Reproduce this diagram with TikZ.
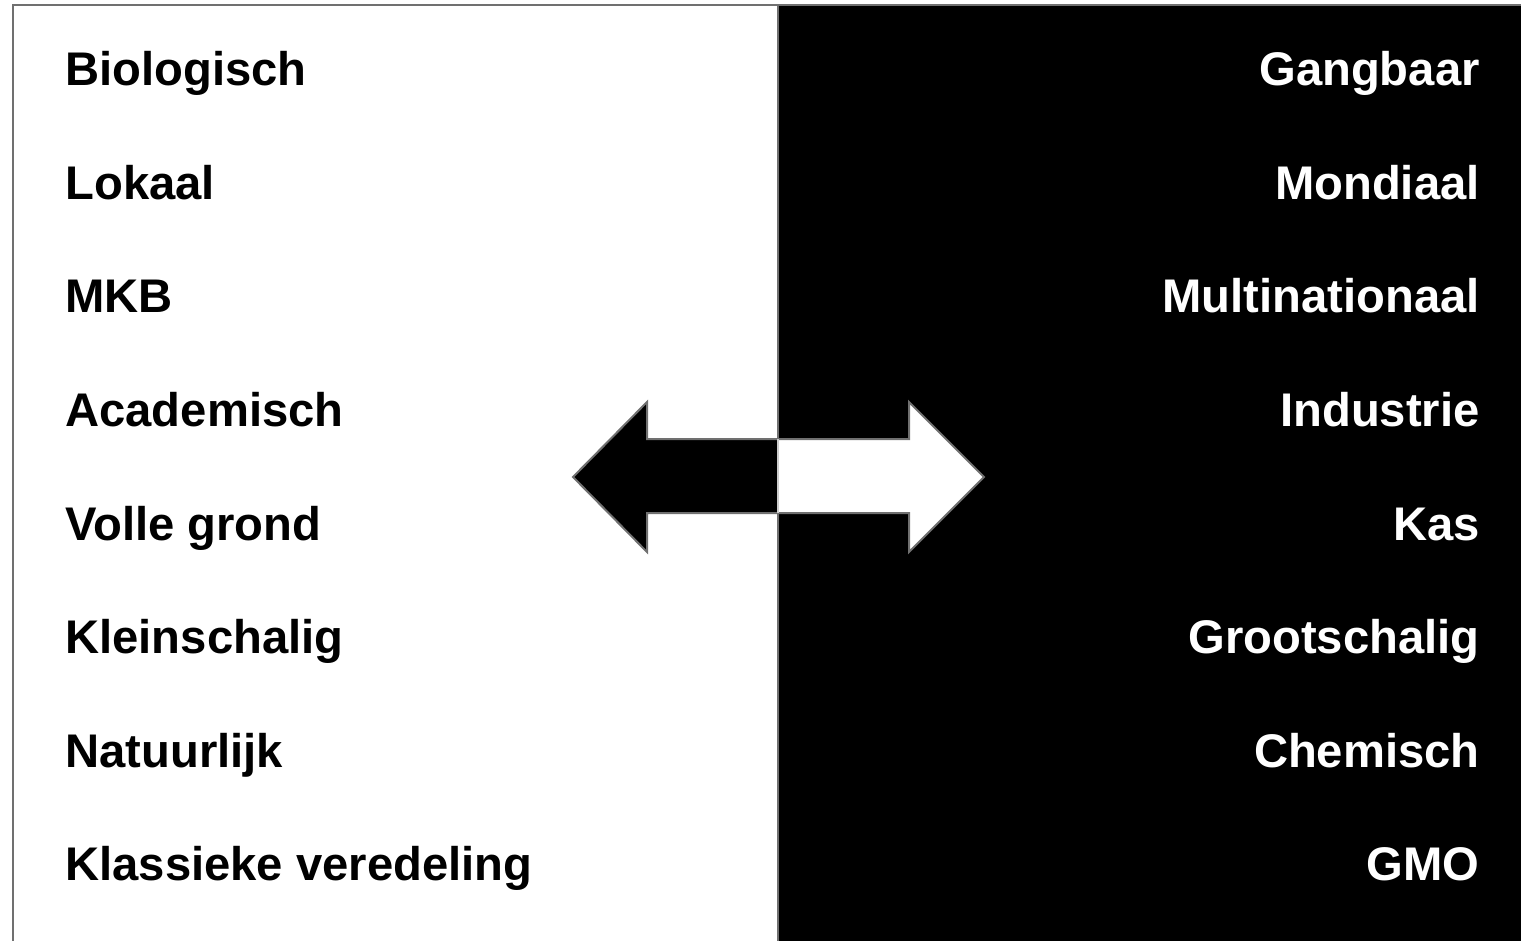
\documentclass[tikz,border=0pt]{standalone}
\usepackage{fontspec}
\setmainfont{Liberation Sans}
\usepackage{tikz}
\definecolor{framegray}{RGB}{112,112,112}
\tikzset{
  lefttext/.style={anchor=base west,inner sep=0pt,font=\bfseries\fontsize{23.6}{23.6}\selectfont,text=black},
  righttext/.style={anchor=base east,inner sep=0pt,font=\bfseries\fontsize{23.6}{23.6}\selectfont,text=white},
  arrowline/.style={draw=framegray,line width=1pt,line join=miter}
}

\begin{document}
\begin{tikzpicture}[x=0.5pt,y=-0.5pt]
\useasboundingbox (0,0) rectangle (1521,941);
\fill[white] (0,0) rectangle (1521,941);
\fill[black] (778,5) rectangle (1530,950);
\draw[framegray,line width=1pt] (13,950) -- (13,5) -- (1530,5);
\draw[framegray,line width=1pt] (778,5) -- (778,950);
\filldraw[arrowline,fill=black] (778,439) -- (647,439) -- (647,402) -- (573,477) -- (647,552) -- (647,513) -- (778,513);
\filldraw[arrowline,fill=white] (778,439) -- (909,439) -- (909,402) -- (984,477) -- (909,552) -- (909,513) -- (778,513);
\draw[white!80!black,line width=1pt] (778,439) -- (778,513);
\node[lefttext] (biologisch) at (65,86) {Biologisch};
\node[lefttext] (lokaal) at (65,199.5) {Lokaal};
\node[lefttext] (mkb) at (65,313) {MKB};
\node[lefttext] (academisch) at (65,426.5) {Academisch};
\node[lefttext] (vollegrond) at (65,540) {Volle grond};
\node[lefttext] (kleinschalig) at (65,653.5) {Kleinschalig};
\node[lefttext] (natuurlijk) at (65,767) {Natuurlijk};
\node[lefttext] (klassiek) at (65,880.5) {Klassieke veredeling};
\node[righttext] (gangbaar) at (1480,86) {Gangbaar};
\node[righttext] (mondiaal) at (1480,199.5) {Mondiaal};
\node[righttext] (multinationaal) at (1480,313) {Multinationaal};
\node[righttext] (industrie) at (1480,426.5) {Industrie};
\node[righttext] (kas) at (1480,540) {Kas};
\node[righttext] (grootschalig) at (1480,653.5) {Grootschalig};
\node[righttext] (chemisch) at (1480,767) {Chemisch};
\node[righttext] (gmo) at (1480,880.5) {GMO};
\end{tikzpicture}
\end{document}
